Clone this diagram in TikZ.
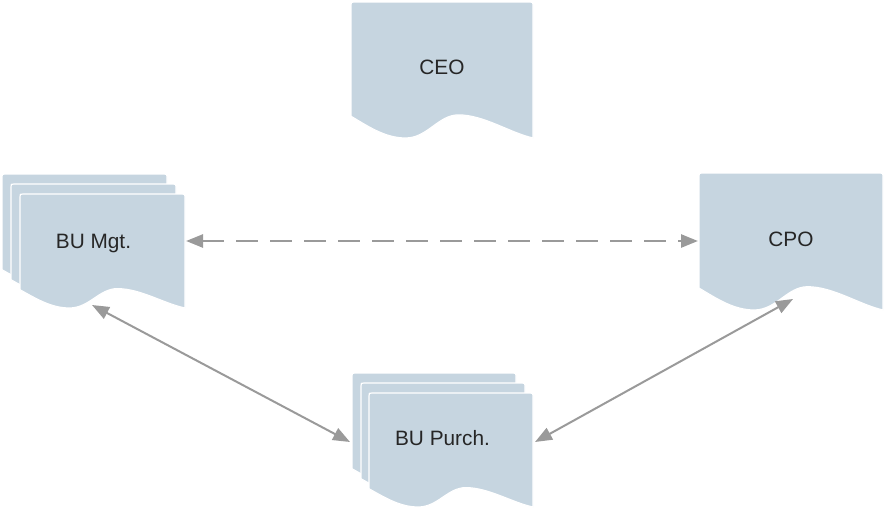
\documentclass[tikz,border=0pt]{standalone}
\usepackage{fontspec}
\setmainfont{Liberation Sans}
\usetikzlibrary{arrows.meta}

\definecolor{pageblue}{HTML}{C6D5E0}
\definecolor{linkgray}{HTML}{9A9A9A}
\definecolor{inkdark}{HTML}{262626}

% A "document" page with a wavy lower edge, top-left corner at (#1,#2),
% width #3 and height #4 (measured down to the lowest point of the wave).
\newcommand\docshape[4]{%
  \begin{scope}[shift={(#1,#2)}]
    \def\W{#3}\def\H{#4}
    \filldraw[page] (0,0.84*\H) -- (0,3) .. controls (0,0) .. (3,0)
      -- (\W-3,0) .. controls (\W,0) .. (\W,3) -- (\W,\H)
      .. controls (0.87*\W,0.96*\H) and (0.73*\W,0.83*\H) .. (0.59*\W,0.83*\H)
      .. controls (0.48*\W,0.83*\H) and (0.42*\W,\H) .. (0.30*\W,\H)
      .. controls (0.19*\W,\H) and (0.10*\W,0.92*\H) .. (0,0.84*\H) -- cycle;
  \end{scope}}

\begin{document}
\begin{tikzpicture}[
    x=1pt, y=-1pt,
    page/.style={fill=pageblue, draw=white, line width=1.2pt},
    caption/.style={anchor=base, inner sep=0pt, text=inkdark,
      font=\fontsize{20.8}{25}\selectfont},
    link/.style={draw=linkgray, line width=2pt,
      {Triangle[length=17pt,width=13pt]}-{Triangle[length=17pt,width=13pt]}},
    dashlink/.style={link, line width=2.6pt, dash pattern=on 22pt off 12pt},
  ]
  \useasboundingbox (0,0) rectangle (884,512);

  % CEO
  \docshape{351}{2}{182}{136}
  \node[caption] (ceo) at (442,74.5) {CEO};

  % CPO
  \docshape{699}{173}{184}{137}
  \node[caption] (cpo) at (791,246) {CPO};

  % BU management (stack of pages)
  \docshape{2}{174}{165}{114}
  \docshape{11}{184}{165}{114}
  \docshape{20}{194}{165}{114}
  \node[caption] (mgt) at (93.5,248) {BU Mgt.};

  % BU purchasing (stack of pages)
  \docshape{352}{373}{164}{114}
  \docshape{361}{383}{164}{114}
  \docshape{369}{393}{164}{114}
  \node[caption] (pur) at (442.5,445.5) {BU Purch.};

  % connector end points on the page outlines
  \coordinate (mgtR) at (186,241);
  \coordinate (cpoL) at (698,241);
  \coordinate (mgtB) at (92,305);
  \coordinate (purL) at (350,442);
  \coordinate (purR) at (535,442);
  \coordinate (cpoB) at (793,299);

  \draw[dashlink] (mgtR) -- (cpoL);
  \draw[link] (mgtB) -- (purL);
  \draw[link] (purR) -- (cpoB);
\end{tikzpicture}
\end{document}
